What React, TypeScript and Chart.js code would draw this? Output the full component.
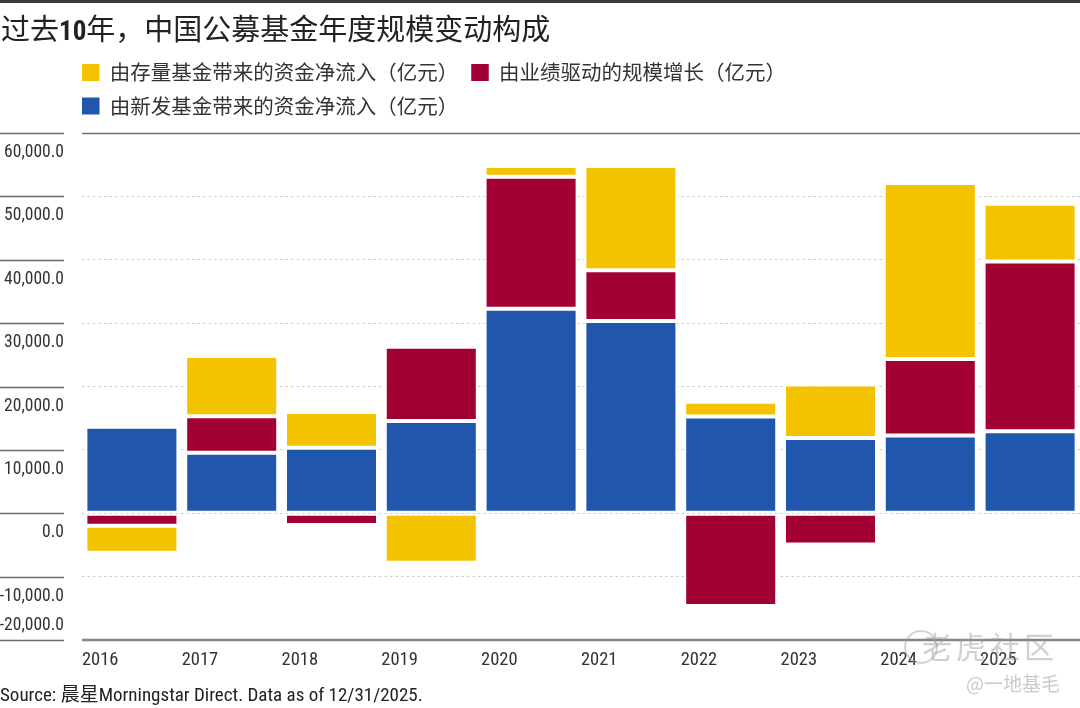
import React, { useEffect, useRef } from "react";
import { Chart, registerables } from "chart.js";

Chart.register(...registerables);

// ---- data (亿元) ----
const years = ["2016", "2017", "2018", "2019", "2020", "2021", "2022", "2023", "2024", "2025"];
const newFundFlow = [13650, 9550, 10340, 14550, 32270, 30330, 15260, 11880, 12260, 12940];
const performanceGrowth = [-1970, 5760, -1860, 11720, 20830, 8020, -14640, -4920, 12090, 26780];
const existingFundFlow = [-4260, 9500, 5630, -7810, 1690, 16440, 2340, 8440, 27760, 9120];

const seriesLabels = {
  newFund: "由新发基金带来的资金净流入（亿元）",
  performance: "由业绩驱动的规模增长（亿元）",
  existing: "由存量基金带来的资金净流入（亿元）",
};

const yMin = -20000;
const yMax = 60000;
const yStep = 10000;

const titleBefore = "过去";
const titleBold = "10";
const titleAfter = "年，中国公募基金年度规模变动构成";
const sourceText = "Source: 晨星Morningstar Direct. Data as of 12/31/2025.";

const BLUE = "#2156ad";
const RED = "#a30033";
const YELLOW = "#f4c300";
const COND = '"Roboto Condensed", "DejaVu Sans Condensed", "Noto Sans CJK SC", sans-serif';
const CJK = '"Noto Sans CJK SC", "Noto Sans", sans-serif';

const fmt = (v: number) =>
  v.toLocaleString("en-US", { minimumFractionDigits: 1, maximumFractionDigits: 1 });

const decorPlugin = {
  id: "decor",
  beforeLayout(chart: any) {
    const lg = chart.legend;
    if (lg && !lg.__patched) {
      const orig = lg.fit.bind(lg);
      lg.fit = () => {
        orig();
        lg.height += 6.75;
      };
      lg.__patched = true;
    }
  },
  afterDraw(chart: any) {
    const { ctx, chartArea } = chart;
    const y = chart.scales.y;
    ctx.save();
    y.ticks.forEach((t: any) => {
      const py = Math.round(y.getPixelForValue(t.value)) + 0.5;
      ctx.strokeStyle = "#6a6a6a";
      ctx.lineWidth = 1.4;
      ctx.beginPath();
      ctx.moveTo(0, py);
      ctx.lineTo(64, py);
      ctx.stroke();
      const ly = t.value === yMin ? py - 15 : py + 19;
      ctx.fillStyle = "#333";
      ctx.font = `17.5px ${COND}`;
      ctx.textAlign = "right";
      ctx.textBaseline = "middle";
      ctx.fillText(fmt(t.value), 64, ly);
    });
    const top = Math.round(y.getPixelForValue(yMax)) + 0.5;
    ctx.strokeStyle = "#707070";
    ctx.lineWidth = 1.4;
    ctx.beginPath();
    ctx.moveTo(chartArea.left, top);
    ctx.lineTo(chartArea.right, top);
    ctx.stroke();
    const bot = y.getPixelForValue(yMin);
    ctx.strokeStyle = "#858585";
    ctx.lineWidth = 2.6;
    ctx.beginPath();
    ctx.moveTo(chartArea.left, bot);
    ctx.lineTo(chartArea.right, bot);
    ctx.stroke();
    ctx.restore();
  },
};

export default function App() {
  const canvasRef = useRef<HTMLCanvasElement | null>(null);

  useEffect(() => {
    if (!canvasRef.current) return;
    const chart = new Chart(canvasRef.current, {
      type: "bar",
      data: {
        labels: years,
        datasets: [
          { label: seriesLabels.newFund, data: newFundFlow, backgroundColor: BLUE },
          { label: seriesLabels.performance, data: performanceGrowth, backgroundColor: RED },
          { label: seriesLabels.existing, data: existingFundFlow, backgroundColor: YELLOW },
        ].map((d) => ({
          ...d,
          borderColor: "#ffffff",
          borderWidth: 2,
          borderSkipped: false as any,
          barPercentage: 0.932,
          categoryPercentage: 1,
        })),
      },
      options: {
        responsive: false,
        animation: false,
        layout: { padding: { top: 49.25, left: 69, right: 0, bottom: 0 } },
        plugins: {
          tooltip: { enabled: false },
          title: { display: false },
          legend: {
            position: "top",
            align: "start",
            reverse: true,
            labels: {
              boxWidth: 17.5,
              boxHeight: 17,
              padding: 13,
              color: "#333",
              font: { family: CJK, size: 20.5 },
              generateLabels: (c: any) =>
                Chart.defaults.plugins.legend.labels.generateLabels(c).map((l: any) => ({
                  ...l,
                  lineWidth: 0,
                  strokeStyle: "rgba(0,0,0,0)",
                })),
            },
          },
        },
        scales: {
          x: {
            stacked: true,
            grid: { display: false, drawTicks: false },
            border: { display: false },
            ticks: {
              align: "start",
              labelOffset: -50,
              padding: 9,
              color: "#333",
              maxRotation: 0,
              autoSkip: false,
              font: { family: COND, size: 18.5 },
            },
            afterFit: (s: any) => {
              s.height = 68;
            },
          },
          y: {
            stacked: true,
            min: yMin,
            max: yMax,
            ticks: { stepSize: yStep, display: false },
            grid: {
              drawTicks: false,
              lineWidth: 1,
              color: (ctx: any) =>
                ctx.tick && (ctx.tick.value === yMax || ctx.tick.value === yMin)
                  ? "rgba(0,0,0,0)"
                  : "#cdcdcd",
            },
            border: { display: false, dash: [2.5, 3] },
            afterFit: (s: any) => {
              s.width = 13;
            },
          },
        },
      },
      plugins: [decorPlugin],
    } as any);
    return () => chart.destroy();
  }, []);

  return (
    <div
      style={{
        position: "absolute",
        left: 0,
        top: 0,
        width: 1080,
        height: 708,
        background: "#fff",
        overflow: "hidden",
      }}
    >
      <div style={{ position: "absolute", left: 0, top: 0, width: 1080, height: 3, background: "#3a3a3a" }} />
      <canvas ref={canvasRef} width={1080} height={708} style={{ position: "absolute", left: 0, top: 0, width: 1080, height: 708 }} />
      <div
        style={{
          position: "absolute",
          left: 1,
          top: 11,
          fontFamily: CJK,
          fontSize: 29,
          lineHeight: "32px",
          color: "#222",
          whiteSpace: "nowrap",
        }}
      >
        {titleBefore}
        <span style={{ fontFamily: COND, fontWeight: 700, fontSize: 27 }}>{titleBold}</span>
        {titleAfter}
      </div>
      <div
        style={{
          position: "absolute",
          left: 0,
          top: 685,
          fontFamily: COND,
          fontSize: 19,
          lineHeight: "20px",
          color: "#222",
          whiteSpace: "nowrap",
        }}
      >
        {sourceText}
      </div>
      <div
        style={{
          position: "absolute",
          left: 904,
          top: 630,
          width: 30,
          height: 30,
          borderRadius: "50%",
          border: "2px solid rgba(160,160,160,0.45)",
        }}
      />
      <div
        style={{
          position: "absolute",
          left: 922,
          top: 627,
          fontFamily: CJK,
          fontSize: 30,
          letterSpacing: 4,
          lineHeight: "36px",
          color: "rgba(150,150,150,0.45)",
          whiteSpace: "nowrap",
        }}
      >
        老虎社区
      </div>
      <div
        style={{
          position: "absolute",
          left: 966,
          top: 671,
          fontFamily: CJK,
          fontSize: 19,
          lineHeight: "24px",
          color: "rgba(150,150,150,0.5)",
          whiteSpace: "nowrap",
        }}
      >
        @一地基毛
      </div>
    </div>
  );
}
